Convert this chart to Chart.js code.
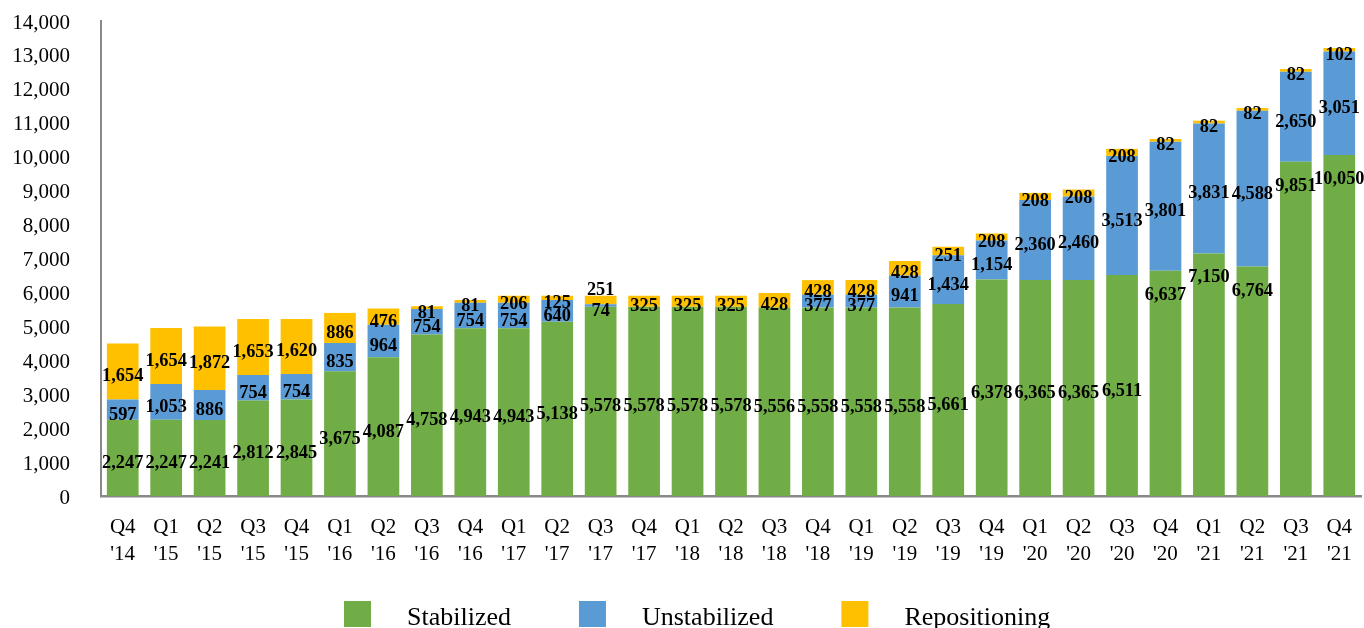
<!DOCTYPE html>
<html>
<head>
<meta charset="utf-8">
<script src="https://cdn.jsdelivr.net/npm/chart.js@4/dist/chart.umd.min.js"></script>
<style>
  html, body { margin: 0; padding: 0; background: #fff; }
  #wrap { width: 1364px; height: 628px; }
</style>
</head>
<body>
<div id="wrap"><canvas id="c" width="1364" height="628"></canvas></div>
<script>
// ---- Data ----
const categories = [
  "Q4 '14", "Q1 '15", "Q2 '15", "Q3 '15", "Q4 '15",
  "Q1 '16", "Q2 '16", "Q3 '16", "Q4 '16",
  "Q1 '17", "Q2 '17", "Q3 '17", "Q4 '17",
  "Q1 '18", "Q2 '18", "Q3 '18", "Q4 '18",
  "Q1 '19", "Q2 '19", "Q3 '19", "Q4 '19",
  "Q1 '20", "Q2 '20", "Q3 '20", "Q4 '20",
  "Q1 '21", "Q2 '21", "Q3 '21", "Q4 '21"
];
const stabilized = [
  2247, 2247, 2241, 2812, 2845,
  3675, 4087, 4758, 4943,
  4943, 5138, 5578, 5578,
  5578, 5578, 5556, 5558,
  5558, 5558, 5661, 6378,
  6365, 6365, 6511, 6637,
  7150, 6764, 9851, 10050
];
const unstabilized = [
  597, 1053, 886, 754, 754,
  835, 964, 754, 754,
  754, 640, 74, 0,
  0, 0, 0, 377,
  377, 941, 1434, 1154,
  2360, 2460, 3513, 3801,
  3831, 4588, 2650, 3051
];
const repositioning = [
  1654, 1654, 1872, 1653, 1620,
  886, 476, 81, 81,
  206, 125, 251, 325,
  325, 325, 428, 428,
  428, 428, 251, 208,
  208, 208, 208, 82,
  82, 82, 82, 102
];
const seriesNames = ["Stabilized", "Unstabilized", "Repositioning"];
const yTicks = { min: 0, max: 14000, step: 1000 };

// ---- Styling ----
const colors = ["#70AD47", "#5B9BD5", "#FFC000"];
const SERIF = '"Liberation Serif", "Times New Roman", serif';
Chart.defaults.font.family = SERIF;
Chart.defaults.color = "#000";

// label placement tweaks (presentation only)
const topAnchoredStabilized = new Set([24, 25, 26, 27, 28]);
const liftedLabels = { "2:11": -6 };

const fmt = v => v.toLocaleString("en-US");

const segLabels = {
  id: "segLabels",
  afterDatasetsDraw(chart) {
    const ctx = chart.ctx;
    const sx = 0.94;
    ctx.save();
    ctx.font = "bold 19.5px " + SERIF;
    ctx.fillStyle = "#000";
    ctx.textAlign = "center";
    ctx.textBaseline = "middle";
    chart.data.datasets.forEach((ds, di) => {
      const meta = chart.getDatasetMeta(di);
      meta.data.forEach((bar, i) => {
        const v = ds.data[i];
        if (!v) return;
        const top = Math.min(bar.y, bar.base);
        const bottom = Math.max(bar.y, bar.base);
        let y = (top + bottom) / 2 + 5;
        if (di === 0 && topAnchoredStabilized.has(i)) y = top + 24;
        const key = di + ":" + i;
        if (key in liftedLabels) y = top + liftedLabels[key];
        ctx.save();
        ctx.translate(bar.x, y);
        ctx.scale(sx, 1);
        ctx.fillText(fmt(v), 0, 0);
        ctx.restore();
      });
    });
    ctx.restore();
  }
};

const bottomLegend = {
  id: "bottomLegend",
  afterDraw(chart) {
    const ctx = chart.ctx;
    ctx.save();
    ctx.font = "26px " + SERIF;
    ctx.textBaseline = "alphabetic";
    ctx.textAlign = "left";
    let x = 344;
    const boxW = 27, boxH = 26, boxY = 601, gapText = 36, gapItem = 68;
    chart.data.datasets.forEach((ds, di) => {
      ctx.fillStyle = ds.backgroundColor;
      ctx.fillRect(x, boxY, boxW, boxH);
      ctx.fillStyle = "#000";
      const tx = x + boxW + gapText;
      ctx.fillText(ds.label, tx, 625);
      x = tx + ctx.measureText(ds.label).width + gapItem;
    });
    ctx.restore();
  }
};

new Chart(document.getElementById("c"), {
  type: "bar",
  data: {
    labels: categories.map(c => c.split(" ")),
    datasets: [
      { label: seriesNames[0], data: stabilized, backgroundColor: colors[0] },
      { label: seriesNames[1], data: unstabilized, backgroundColor: colors[1] },
      { label: seriesNames[2], data: repositioning, backgroundColor: colors[2] }
    ]
  },
  options: {
    responsive: false,
    animation: false,
    devicePixelRatio: 1,
    datasets: { bar: { barPercentage: 0.73, categoryPercentage: 1.0, borderWidth: 0 } },
    layout: { padding: { top: 21, right: 3, bottom: 0, left: 0 } },
    plugins: {
      legend: { display: false },
      tooltip: { enabled: false }
    },
    scales: {
      x: {
        stacked: true,
        grid: { display: false, drawTicks: false },
        border: { display: true, color: "#898989", width: 2.5 },
        ticks: {
          color: "#000",
          font: { size: 21, lineHeight: 1.28 },
          padding: 18,
          maxRotation: 0,
          autoSkip: false
        },
        afterFit(s) { s.height = 132; s.paddingLeft = 0; s.paddingRight = 0; }
      },
      y: {
        stacked: true,
        min: yTicks.min,
        max: yTicks.max,
        grid: { display: false, drawTicks: false },
        border: { display: true, color: "#898989", width: 2 },
        ticks: {
          stepSize: yTicks.step,
          color: "#000",
          font: { size: 21 },
          padding: 31,
          labelOffset: 2,
          callback: v => fmt(v)
        },
        afterFit(s) { s.width = 101; s.paddingTop = 0; s.paddingBottom = 0; }
      }
    }
  },
  plugins: [segLabels, bottomLegend]
});
</script>
</body>
</html>
